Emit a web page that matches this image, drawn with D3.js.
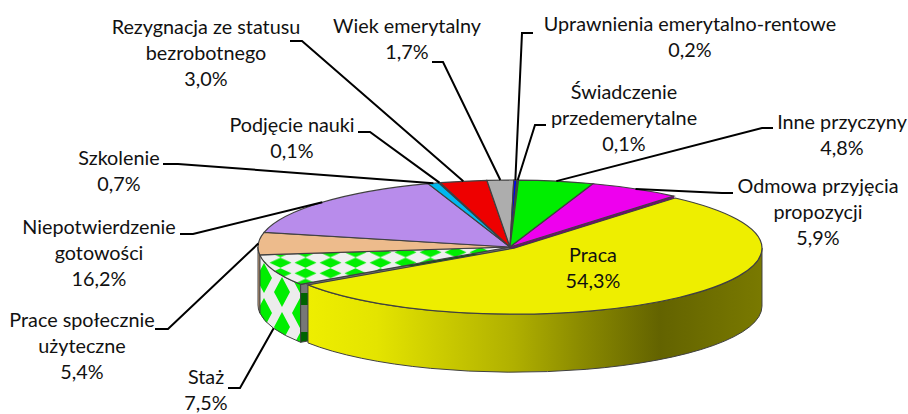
<!DOCTYPE html>
<html>
<head>
<meta charset="utf-8">
<style>
  html, body { margin: 0; padding: 0; background: #fff; overflow: hidden; }
  text { font-family: Lato, sans-serif; font-size: 19.8px; fill: #111; }
</style>
<script src="https://cdn.jsdelivr.net/npm/d3@7"></script>
</head>
<body>
<div id="pie-chart"></div>
<script>
// clockwise from the pulled out slice
const categories = ['Praca', 'Staż', 'Prace społecznie użyteczne', 'Niepotwierdzenie gotowości', 'Szkolenie',
  'Podjęcie nauki', 'Rezygnacja ze statusu bezrobotnego', 'Wiek emerytalny', 'Uprawnienia emerytalno-rentowe',
  'Świadczenie przedemerytalne', 'Inne przyczyny', 'Odmowa przyjęcia propozycji']
const values = [54.3, 7.5, 5.4, 16.2, 0.7, 0.1, 3.0, 1.7, 0.2, 0.1, 4.8, 5.9]
const colors = ['#eeee00', 'url(#top-diamonds)', '#edbb8c', '#b88ceb', '#00b8ee', '#222222', '#ee0000', '#adadad',
  '#0000ee', '#00aa00', '#00ee00', '#ee00ee']

// wrapped label text, same order as categories
const labelLines = [['Praca'], ['Staż'], ['Prace społecznie', 'użyteczne'], ['Niepotwierdzenie', 'gotowości'], ['Szkolenie'],
  ['Podjęcie nauki'], ['Rezygnacja ze statusu', 'bezrobotnego'], ['Wiek emerytalny'], ['Uprawnienia emerytalno-rentowe'],
  ['Świadczenie', 'przedemerytalne'], ['Inne przyczyny'], ['Odmowa przyjęcia', 'propozycji']]
const labelCenterX = [593, 206, 82, 99, 119, 292, 206, 407, 690, 624, 842, 818]
const labelTopY = [262, 384, 327, 234, 165, 132, 34, 33, 31, 99, 129, 193]
// leader elbow: [outer x, elbow x, y]
const leaderElbows = [null, [228, 240, 388], [155, 168, 329], [180, 193, 234], [163, 178, 164], [358, 370, 132],
  [290, 302, 41], [432, 443, 62], [533, 522, 33], [546, 535, 125], [773, 762, 128], [733, 722, 193]]

const width = 908
const height = 414
const center = { x: 510, y: 247 }
const radius = { rx: 252, ry: 67 }
const mainRadius = { rx: 248, ry: 66 }
const depth = 58
const explode = 6
const lineHeight = 26
const squash = radius.ry / radius.rx

const svg = d3
  .select('#pie-chart')
  .append('svg')
  .attr('width', width)
  .attr('height', height)
  .style('display', 'block')

const defs = svg.append('defs')

const topPattern = defs.append('pattern')
  .attr('id', 'top-diamonds')
  .attr('patternUnits', 'userSpaceOnUse')
  .attr('width', 25)
  .attr('height', 10.5 / squash)
  .attr('x', 8)
  .attr('y', 0)
topPattern.append('rect').attr('width', 25).attr('height', 10.5 / squash).attr('fill', '#efefef')
topPattern.append('path')
  .attr('d', d3.line()([[12.5, 0.2 / squash], [23.5, 5.25 / squash], [12.5, 10.3 / squash], [1.5, 5.25 / squash]]) + 'Z')
  .attr('fill', '#00ee00')

const sidePattern = defs.append('pattern')
  .attr('id', 'side-diamonds')
  .attr('patternUnits', 'userSpaceOnUse')
  .attr('width', 36)
  .attr('height', 35)
  .attr('x', 255)
  .attr('y', 260)
sidePattern.append('rect').attr('width', 36).attr('height', 35).attr('fill', '#ececec')
const sideDiamond = ([x, y]) => d3.line()([[x, y - 15], [x + 8, y], [x, y + 15], [x - 8, y]]) + 'Z'
;[[9, 18], [27, 32], [27, -3]].forEach(p => {
  sidePattern.append('path').attr('d', sideDiamond(p)).attr('fill', '#00ee00')
})

const cutPattern = defs.append('pattern')
  .attr('id', 'cut-stripes')
  .attr('patternUnits', 'userSpaceOnUse')
  .attr('width', 10)
  .attr('height', 39)
  .attr('y', 293)
cutPattern.append('rect').attr('width', 10).attr('height', 39).attr('fill', '#777777')
cutPattern.append('rect').attr('width', 10).attr('height', 12).attr('fill', '#006400')

const wallGradient = defs.append('linearGradient')
  .attr('id', 'wall-yellow')
  .attr('gradientUnits', 'userSpaceOnUse')
  .attr('x1', 308).attr('x2', 765)
  .attr('y1', 0).attr('y2', 0)
;[[0, '#eeee00'], [0.15, '#e4e400'], [0.45, '#b0b000'], [0.6, '#8a8a00'], [0.77, '#636300'], [1, '#7a7a00']].forEach(s => {
  wallGradient.append('stop').attr('offset', s[0]).attr('stop-color', s[1])
})

const toRad = deg => deg * Math.PI / 180
const startDeg = 40.5

const pie = d3.pie()
  .sort(null)
  .startAngle(toRad(startDeg))
  .endAngle(toRad(startDeg + 360))
const slices = pie(values)

const arc = d3.arc().innerRadius(0).outerRadius(radius.rx)
const mainArc = d3.arc().innerRadius(0).outerRadius(mainRadius.rx)

const rimPoint = (a, c, r) => [c.x + r.rx * Math.sin(a), c.y - r.ry * Math.cos(a)]

function wallPath (a0, a1, c, r) {
  const from = Math.max(a0, Math.PI / 2)
  const to = Math.min(a1, Math.PI * 1.5)
  if (from >= to) return null
  const p0 = rimPoint(from, c, r)
  const p1 = rimPoint(to, c, r)
  return 'M' + p0 + 'A' + r.rx + ',' + r.ry + ' 0 0 1 ' + p1 +
    'L' + p1[0] + ',' + (p1[1] + depth) +
    'A' + r.rx + ',' + r.ry + ' 0 0 0 ' + p0[0] + ',' + (p0[1] + depth) + 'Z'
}

function cutFace (a, c, r) {
  const p = rimPoint(a, c, r)
  return 'M' + c.x + ',' + c.y + 'L' + p + 'L' + p[0] + ',' + (p[1] + depth) +
    'L' + c.x + ',' + (c.y + depth) + 'Z'
}

const explodedCenter = d => {
  const mid = (d.startAngle + d.endAngle) / 2
  return { x: center.x + explode * Math.sin(mid), y: center.y - explode * squash * Math.cos(mid) }
}

const edge = '#404040'
const rest = slices.slice(1)
const main = slices[0]

// walls of the back group first, the yellow slice sits on top of them
svg.append('g')
  .selectAll('path')
  .data(rest.filter(d => wallPath(d.startAngle, d.endAngle, center, radius)))
  .enter().append('path')
  .attr('d', d => wallPath(d.startAngle, d.endAngle, center, radius))
  .attr('fill', d => d.index === 1 ? 'url(#side-diamonds)' : '#e3b083')
  .attr('stroke', edge)
  .attr('stroke-width', 1)

// cut faces that show in the gap around the pulled out slice
svg.append('path').attr('d', cutFace(main.endAngle, center, radius))
  .attr('fill', 'url(#cut-stripes)').attr('stroke', edge)
svg.append('path').attr('d', cutFace(main.startAngle, center, radius))
  .attr('fill', '#7a007a').attr('stroke', '#7a007a')

const topGroup = svg.append('g')
  .attr('transform', 'translate(' + center.x + ',' + center.y + ') scale(1,' + squash + ')')

topGroup.selectAll('path')
  .data(rest)
  .enter().append('path')
  .attr('d', arc)
  .attr('fill', d => colors[d.index])
  .attr('stroke', edge)
  .attr('stroke-width', 1.2)
  .attr('vector-effect', 'non-scaling-stroke')

const mainCenter = explodedCenter(main)

svg.append('path')
  .attr('d', wallPath(main.startAngle, main.endAngle, mainCenter, mainRadius))
  .attr('fill', 'url(#wall-yellow)')
  .attr('stroke', edge)

svg.append('path')
  .datum(main)
  .attr('transform', 'translate(' + mainCenter.x + ',' + mainCenter.y + ') scale(1,' + (mainRadius.ry / mainRadius.rx) + ')')
  .attr('d', mainArc)
  .attr('fill', colors[0])
  .attr('stroke', edge)
  .attr('stroke-width', 1.2)
  .attr('vector-effect', 'non-scaling-stroke')

// leader lines run from the middle of the slice rim to the label elbow
const leader = d3.line()
function leaderPoints (d) {
  const e = leaderElbows[d.index]
  const mid = (d.startAngle + d.endAngle) / 2
  const p = rimPoint(mid, center, radius)
  if (d.index === 1) p[1] += depth
  return [[e[0], e[2]], [e[1], e[2]], p]
}

svg.append('g')
  .selectAll('path')
  .data(rest)
  .enter().append('path')
  .attr('d', d => leader(leaderPoints(d)))
  .attr('fill', 'none')
  .attr('stroke', '#000')
  .attr('stroke-width', 2)

const labels = svg.append('g')
  .selectAll('text')
  .data(slices)
  .enter().append('text')
  .attr('text-anchor', 'middle')
  .attr('y', d => labelTopY[d.index])

labels.selectAll('tspan')
  .data(d => labelLines[d.index].concat(d3.format('.1f')(d.value).replace('.', ',') + '%').map(t => ({ t, i: d.index })))
  .enter().append('tspan')
  .attr('x', d => labelCenterX[d.i])
  .attr('dy', (d, i) => i === 0 ? 0 : lineHeight)
  .text(d => d.t)
</script>
</body>
</html>
